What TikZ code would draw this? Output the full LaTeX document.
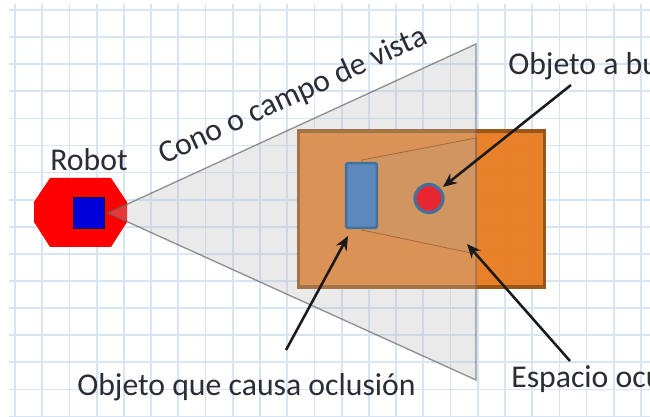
\documentclass[tikz,border=0pt]{standalone}
\usepackage{fontspec}
\setmainfont{Carlito}
\usetikzlibrary{arrows.meta}
\definecolor{gridc}{HTML}{D6E4F6}
\definecolor{txt}{HTML}{2A2C36}
\definecolor{orangef}{HTML}{E87C22}
\definecolor{oranged}{HTML}{9A5518}
\definecolor{conef}{HTML}{BCBCBC}
\definecolor{blueb}{HTML}{5C88BE}
\definecolor{bluee}{HTML}{44709E}
\definecolor{targetf}{HTML}{E8262F}
\tikzset{
  gridline/.style={draw=gridc,line width=1.3pt},
  label/.style={font=\fontsize{23.8}{26}\selectfont,text=txt,inner sep=0pt},
  pointer/.style={draw=black!90,line width=1.9pt,-{Stealth[length=10.5pt,width=9pt]}},
}
\begin{document}
\begin{tikzpicture}[x=0.75pt,y=-0.75pt]
\useasboundingbox (0,0) rectangle (650,417);
\clip (0,0) rectangle (650,417);
\fill[white] (0,0) rectangle (650,417);
% grid
\foreach \k in {0,...,23} {
  \pgfmathsetmacro{\gx}{15+27.22*\k}
  \draw[gridline] (\gx,4) -- (\gx,417);
}
\foreach \k in {0,...,15} {
  \pgfmathsetmacro{\gy}{10+27.1*\k}
  \draw[gridline] (9,\gy) -- (650,\gy);
}
% robot
\path[fill=red] (50,178) -- (111,178) -- (127,202) -- (127,222) -- (111,247) -- (50,247) -- (34,222) -- (34,202) -- cycle;
\node[draw=black!70!blue,line width=1.2pt,fill=blue!85!black,minimum size=23.5pt,inner sep=0pt] (bot) at (89,213) {};
% orange rectangle
\path[fill=orangef,draw=oranged,line width=2.4pt,fill opacity=.96] (298.5,131) rectangle (544.5,287);
% cone
\path[fill=conef,fill opacity=.3,draw=black!60,draw opacity=.7,line width=1pt] (108,213) -- (476,44) -- (476,380) -- cycle;
% occluded space
\path[fill=black!35,fill opacity=.16,draw=black!65!orange,draw opacity=.4,line width=.6pt] (362,160) -- (476,138) -- (476,254) -- (362,230) -- cycle;
% occluding object and target
\node[draw=bluee,line width=1.9pt,fill=blueb,minimum width=23pt,minimum height=48.5pt,inner sep=0pt,rounded corners=1pt] (occ) at (361.5,195.5) {};
\node[circle,draw=bluee,line width=2.4pt,fill=targetf,minimum size=21pt,inner sep=0pt] (obj) at (429,198.5) {};
% labels
\node[label] (robot) at (89,160) {Robot};
\node[label,rotate=24.5] (cono) at (293,96) {Cono o campo de vista};
\node[label,anchor=base west] (lobj) at (508,75) {Objeto a bu};
\node[label,anchor=base west] (locc) at (77,395) {Objeto que causa oclusión};
\node[label,anchor=base west] (lesp) at (511,387) {Espacio ocu};
% arrows
\coordinate (a1) at (571,85);
\coordinate (b1) at (443,187);
\coordinate (a2) at (286,350);
\coordinate (b2) at (348,236);
\coordinate (a3) at (570,361);
\coordinate (b3) at (467,244);
\draw[pointer] (a1) -- (b1);
\draw[pointer] (a2) -- (b2);
\draw[pointer] (a3) -- (b3);
\end{tikzpicture}
\end{document}
